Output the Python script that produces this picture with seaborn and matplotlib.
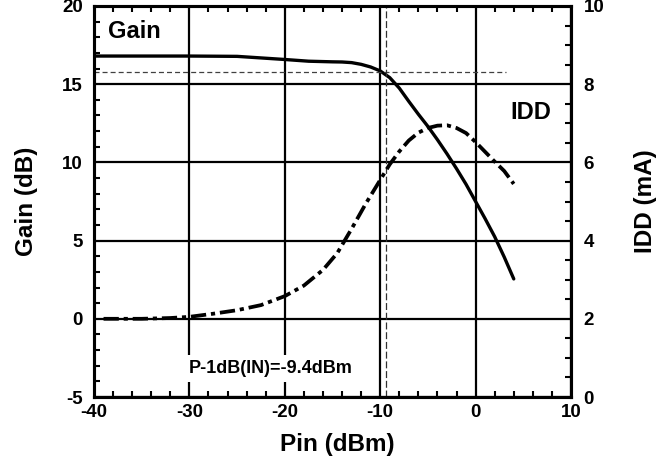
import matplotlib
matplotlib.use("Agg")
import matplotlib.pyplot as plt
from matplotlib.ticker import MultipleLocator
import seaborn as sns
import pandas as pd

# Gain vs input power
pin_gain = [-40, -35, -30, -25, -22.5, -20, -17.5, -15, -14, -13, -12, -11,
            -10, -9, -8, -7, -6, -5, -4, -3, -2, -1, 0, 1, 2, 3, 4]
gain_db = [16.8, 16.8, 16.8, 16.78, 16.68, 16.58, 16.47, 16.43, 16.42, 16.38,
           16.27, 16.1, 15.85, 15.42, 14.75, 13.9, 13.08, 12.3, 11.45, 10.55,
           9.6, 8.6, 7.5, 6.4, 5.25, 3.95, 2.55]

# Supply current vs input power
pin_idd = [-39, -35, -32, -30, -27.5, -25, -22.5, -20, -18, -16, -14.5, -13,
           -11.5, -10, -9, -8, -7, -6, -5, -4, -3, -2, -1, 0, 1, 2, 3, 4]
idd_ma = [2.0, 2.0, 2.02, 2.05, 2.13, 2.22, 2.35, 2.58, 2.85, 3.25, 3.68, 4.3,
          4.95, 5.55, 5.95, 6.28, 6.56, 6.76, 6.88, 6.94, 6.95, 6.88, 6.75,
          6.52, 6.27, 6.02, 5.78, 5.45]

# 1 dB compression point
p1db_in = -9.4
gain_minus_1db = gain_db[0] - 1.0
p1db_label = "P-1dB(IN)=-9.4dBm"

x_ticks = [-40, -30, -20, -10, 0, 10]
gain_ticks = [-5, 0, 5, 10, 15, 20]
idd_ticks = [0, 2, 4, 6, 8, 10]

sns.set_theme(style="white")
plt.rcParams["font.family"] = ["Liberation Sans", "DejaVu Sans"]
plt.rcParams["font.weight"] = "bold"
plt.rcParams["axes.labelweight"] = "bold"
plt.rcParams["text.color"] = "black"
plt.rcParams["axes.labelcolor"] = "black"
plt.rcParams["xtick.color"] = "black"
plt.rcParams["ytick.color"] = "black"
plt.rcParams["lines.scale_dashes"] = False

fig = plt.figure(figsize=(6.6, 4.68), dpi=100)
ax = fig.add_axes([94 / 660, 1 - 397 / 468, 477 / 660, 391 / 468])
ax2 = ax.twinx()

df_gain = pd.DataFrame({"Pin": pin_gain, "Gain": gain_db})
df_idd = pd.DataFrame({"Pin": pin_idd, "IDD": idd_ma})

ax.set_xlim(x_ticks[0], x_ticks[-1])
ax.set_ylim(gain_ticks[0], gain_ticks[-1])
ax2.set_ylim(idd_ticks[0], idd_ticks[-1])

# grid
ax.set_axisbelow(True)
ax.grid(True, which="major", color="black", lw=1.6)

sns.lineplot(data=df_gain, x="Pin", y="Gain", ax=ax, color="black", lw=2.4,
             sort=False, estimator=None)
sns.lineplot(data=df_idd, x="Pin", y="IDD", ax=ax2, color="black", lw=2.7,
             sort=False, estimator=None)
ax2.lines[-1].set_dashes([11, 3.5, 3, 3.5])

# compression markers
ax.plot([x_ticks[0], 3.2], [gain_minus_1db, gain_minus_1db], color="#404040",
        lw=0.9, dashes=[3.6, 2.2])
ax.axvline(p1db_in, color="#303030", lw=0.9, dashes=[5, 2])

# ticks
ax.set_xticks(x_ticks)
ax.set_yticks(gain_ticks)
ax2.set_yticks(idd_ticks)
ax.set_xticklabels([str(t) for t in x_ticks])
ax.set_yticklabels([str(t) for t in gain_ticks])
ax2.set_yticklabels([str(t) for t in idd_ticks])
ax.xaxis.set_minor_locator(MultipleLocator(2))
ax.yaxis.set_minor_locator(MultipleLocator(1))
ax2.yaxis.set_minor_locator(MultipleLocator(0.5))

ax.tick_params(axis="x", which="both", top=True, bottom=True, direction="in")
ax.tick_params(axis="y", which="both", left=True, right=False, direction="in")
ax2.tick_params(axis="y", which="both", right=True, left=False, direction="in")
for a in (ax, ax2):
    a.tick_params(which="major", length=0, labelsize=13.5)
    a.tick_params(which="minor", length=4, width=1.5, color="black")
ax.tick_params(axis="x", which="major", pad=5)
ax.tick_params(axis="y", which="major", pad=8)
ax2.tick_params(axis="y", which="major", pad=9)

for a in (ax, ax2):
    for s in a.spines.values():
        s.set_linewidth(2.2)
        s.set_color("black")

ax.set_xlabel("Pin (dBm)", fontsize=17.5, fontweight="bold")
ax.set_ylabel("Gain (dB)", fontsize=17.5, fontweight="bold")
ax2.set_ylabel("IDD (mA)", fontsize=17.5, fontweight="bold")
ax.xaxis.set_label_coords(0.51, -0.092)
ax.yaxis.set_label_coords(-0.117, 0.5)
ax2.yaxis.set_label_coords(1.132, 0.5)

# in-plot labels
ax.text(-38.5, 17.95, "Gain", fontsize=17, fontweight="bold", va="baseline")
ax.text(3.6, 12.78, "IDD", fontsize=17, fontweight="bold", va="baseline")
ax.text(-30.1, -3.47, p1db_label, fontsize=13, fontweight="bold",
        va="baseline", zorder=5,
        bbox=dict(boxstyle="square,pad=0.3", fc="white", ec="none"))

fig.savefig("out.png", dpi=100)
